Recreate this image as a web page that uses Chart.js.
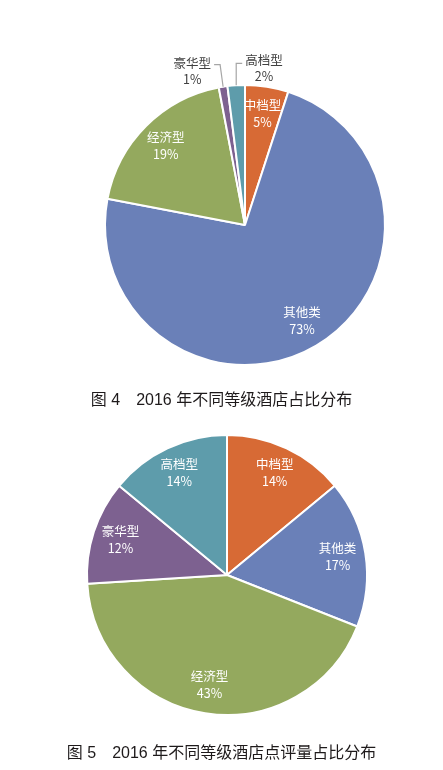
<!DOCTYPE html>
<html lang="zh">
<head>
<meta charset="UTF-8">
<title>2016 年不同等级酒店占比分布</title>
<style>
  html, body { margin: 0; padding: 0; background: #fff; }
  body { width: 443px; height: 770px; position: relative; overflow: hidden; }
  .box { position: absolute; left: 0; }
  .caption {
    position: absolute; left: 0; width: 443px; text-align: center;
    font-family: "Liberation Sans", "Noto Sans CJK SC", sans-serif;
    font-size: 16px; color: #1e1a1b; white-space: pre;
  }
</style>
</head>
<body>
<div class="box" style="top:0"><canvas id="share" width="443" height="450"></canvas></div>
<div class="caption" style="top:386px">图 4　2016 年不同等级酒店占比分布</div>
<div class="box" style="top:420px"><canvas id="reviews" width="443" height="350"></canvas></div>
<div class="caption" style="top:739px">图 5　2016 年不同等级酒店点评量占比分布</div>

<script src="https://cdn.jsdelivr.net/npm/chart.js@4.4.1/dist/chart.umd.min.js"></script>
<script>
// figure 4: hotel count share
const shareLabels = ["中档型", "其他类", "经济型", "豪华型", "高档型"];
const shareValues = [5, 73, 19, 1, 2];
const sharePct = ["5%", "73%", "19%", "1%", "2%"];

// figure 5: review count share
const reviewLabels = ["中档型", "其他类", "经济型", "豪华型", "高档型"];
const reviewValues = [14, 17, 43, 12, 14];
const reviewPct = ["14%", "17%", "43%", "12%", "14%"];

const colors = ["#d76a35", "#6a80b8", "#94a95e", "#7d6190", "#5e9cab"];

// labels inside the slice, or pulled out with a leader line (side -1 / +1)
const sliceLabels = {
  id: "sliceLabels",
  afterDatasetsDraw(chart, args, opts) {
    const c = chart.ctx;
    const arcs = chart.getDatasetMeta(0).data;
    c.save();
    c.font = '12.5px "Noto Sans CJK SC", sans-serif';
    c.textBaseline = "middle";
    c.textAlign = "center";
    arcs.forEach((arc, i) => {
      const p = arc.getProps(["x", "y", "startAngle", "endAngle", "outerRadius"], true);
      const mid = (p.startAngle + p.endAngle) / 2;
      const name = chart.data.labels[i];
      const pct = opts.pct[i];
      const out = opts.outside[i];
      if (!out) {
        const r = p.outerRadius * 0.8;
        const x = p.x + Math.cos(mid) * r;
        const y = p.y + Math.sin(mid) * r;
        c.fillStyle = "#fff";
        c.fillText(name, x, y - 9);
        c.fillText(pct, x, y + 8);
        return;
      }
      const ex = p.x + Math.cos(mid) * p.outerRadius;
      const ey = p.y + Math.sin(mid) * p.outerRadius;
      const kx = ex + out.lean, ky = ey - out.rise;
      const tx = kx + out.side * 6;
      c.strokeStyle = "#a6a6a6";
      c.lineWidth = 1.2;
      c.beginPath();
      c.moveTo(ex, ey);
      c.lineTo(kx, ky);
      c.lineTo(tx, ky);
      c.stroke();
      const w = c.measureText(name).width;
      const cx = tx + out.side * (w / 2 + 3);
      c.fillStyle = "#404040";
      c.fillText(name, cx, ky - 1 + out.shift);
      c.fillText(pct, cx, ky + 15 + out.shift);
    });
    c.restore();
  }
};

function pie(id, labels, values, pct, padding, outside) {
  return new Chart(document.getElementById(id), {
    type: "pie",
    data: {
      labels: labels,
      datasets: [{
        data: values,
        backgroundColor: colors,
        borderColor: "#fff",
        borderWidth: 2
      }]
    },
    options: {
      responsive: false,
      animation: false,
      layout: { padding: padding },
      plugins: {
        legend: { display: false },
        tooltip: { enabled: false },
        sliceLabels: { pct: pct, outside: outside }
      }
    },
    plugins: [sliceLabels]
  });
}

pie("share", shareLabels, shareValues, sharePct,
  { left: 104, right: 57, top: 84, bottom: 84 },
  [null, null, null,
   { side: -1, lean: -3, rise: 22, shift: 0 },
   { side: 1, lean: 0, rise: 22, shift: -2 }]);

pie("reviews", reviewLabels, reviewValues, reviewPct,
  { left: 86, right: 75, top: 14, bottom: 54 },
  [null, null, null, null, null]);
</script>
</body>
</html>
